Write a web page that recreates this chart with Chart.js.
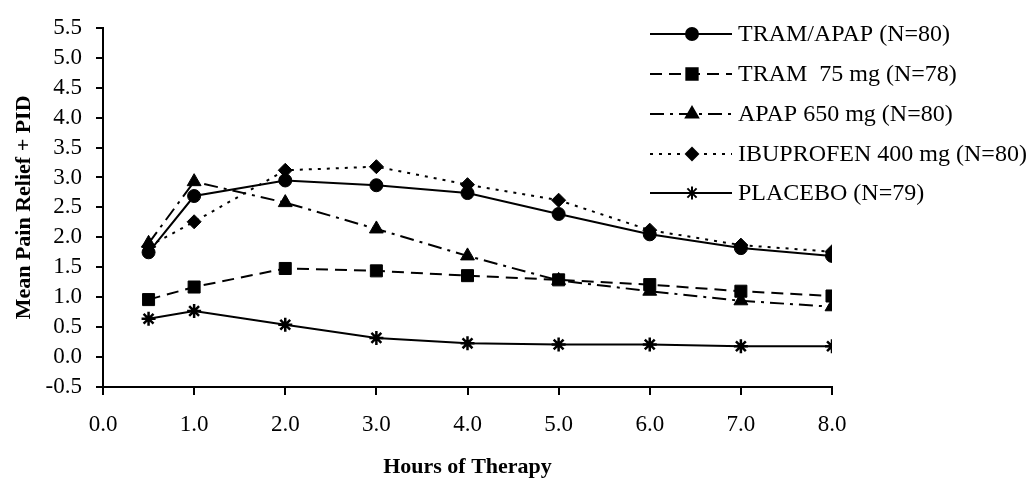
<!DOCTYPE html>
<html>
<head>
<meta charset="utf-8">
<script src="https://cdn.jsdelivr.net/npm/chart.js@4/dist/chart.umd.min.js"></script>
<style>
  html, body { margin: 0; padding: 0; background: #fff; }
  #wrap { width: 1035px; height: 484px; }
</style>
</head>
<body>
<div id="wrap"><canvas id="c" width="1035" height="484"></canvas></div>
<script>
const hours = [0.5, 1, 2, 3, 4, 5, 6, 7, 8];
const tramApap = [1.75, 2.69, 2.95, 2.87, 2.74, 2.39, 2.05, 1.82, 1.69];
const tram75 = [0.96, 1.17, 1.48, 1.44, 1.36, 1.29, 1.21, 1.10, 1.02];
const apap650 = [1.90, 2.93, 2.58, 2.14, 1.69, 1.28, 1.10, 0.94, 0.84];
const ibuprofen = [1.85, 2.26, 3.12, 3.18, 2.88, 2.62, 2.12, 1.87, 1.76];
const placebo = [0.64, 0.77, 0.54, 0.32, 0.23, 0.21, 0.21, 0.18, 0.18];
const seriesLabels = ['TRAM/APAP (N=80)', 'TRAM  75 mg (N=78)', 'APAP 650 mg (N=80)', 'IBUPROFEN 400 mg (N=80)', 'PLACEBO (N=79)'];
const xTitle = 'Hours of Therapy';
const yTitle = 'Mean Pain Relief + PID';

const serif = "'Liberation Serif', 'Times New Roman', serif";
const styles = [
    {dash: [], point: 'circle', r: 6.5, lr: 6},
    {dash: [12, 7], point: 'rect', r: 8.5, lr: 8},
    {dash: [14, 6, 3, 6], point: 'triangle', r: 8, lr: 7},
    {dash: [3, 6], point: 'rectRot', r: 7, lr: 6},
    {dash: [], point: 'star', r: 7, lr: 6.5}
];
const values = [tramApap, tram75, apap650, ibuprofen, placebo];

// legend drawn by hand: line sample with marker in the middle, then text
const legendPlugin = {
    id: 'handLegend',
    afterDraw(chart) {
        const ctx = chart.ctx;
        const rows = [34, 74, 114, 154, 193];
        ctx.save();
        seriesLabels.forEach((label, i) => {
            const y = rows[i];
            const s = styles[i];
            ctx.strokeStyle = '#000';
            ctx.fillStyle = '#000';
            ctx.lineWidth = 2;
            ctx.setLineDash(s.dash);
            ctx.beginPath();
            ctx.moveTo(650, y);
            ctx.lineTo(732, y);
            ctx.stroke();
            ctx.setLineDash([]);
            Chart.helpers.drawPoint(ctx, {pointStyle: s.point, radius: s.lr, rotation: 0, borderWidth: i == 4 ? 2.5 : 1}, 692, y);
            ctx.font = `24px ${serif}`;
            ctx.textBaseline = 'middle';
            ctx.textAlign = 'left';
            ctx.fillText(label, 738, y + 1);
        });
        ctx.restore();
    }
};

const ctx = document.getElementById('c').getContext('2d');
new Chart(ctx, {
    type: 'line',
    data: {
        datasets: values.map((vals, i) => ({
            label: seriesLabels[i],
            data: hours.map((h, j) => ({x: h, y: vals[j]})),
            borderColor: '#000',
            backgroundColor: '#000',
            borderWidth: 2,
            borderDash: styles[i].dash,
            pointStyle: styles[i].point,
            pointRadius: styles[i].r,
            pointBorderWidth: i == 4 ? 2.5 : 1,
            pointBorderColor: '#000',
            pointBackgroundColor: '#000',
            tension: 0,
            fill: false
        }))
    },
    options: {
        responsive: false,
        animation: false,
        layout: {padding: {top: 16, right: 203, left: 0, bottom: 0}},
        plugins: {
            legend: {display: false},
            tooltip: {enabled: false}
        },
        scales: {
            x: {
                type: 'linear',
                min: 0,
                max: 8,
                afterFit: scale => { scale.height = 97; },
                ticks: {
                    stepSize: 1,
                    autoSkip: false,
                    maxRotation: 0,
                    color: '#000',
                    padding: 16,
                    font: {family: serif, size: 23},
                    callback: v => v.toFixed(1)
                },
                grid: {drawOnChartArea: false, drawTicks: true, tickLength: 8, color: '#000', lineWidth: 2},
                border: {display: true, color: '#000', width: 2},
                title: {
                    display: true,
                    text: xTitle,
                    color: '#000',
                    font: {family: serif, size: 22, weight: 'bold'},
                    padding: {top: 0, bottom: 3}
                }
            },
            y: {
                min: -0.5,
                max: 5.5,
                afterFit: scale => { scale.width = 103; },
                ticks: {
                    stepSize: 0.5,
                    autoSkip: false,
                    color: '#000',
                    padding: 14,
                    font: {family: serif, size: 23},
                    callback: v => v.toFixed(1)
                },
                grid: {drawOnChartArea: false, drawTicks: true, tickLength: 7, color: '#000', lineWidth: 2},
                border: {display: true, color: '#000', width: 2},
                title: {
                    display: true,
                    text: yTitle,
                    color: '#000',
                    font: {family: serif, size: 22, weight: 'bold'},
                    padding: {top: 11, bottom: 0}
                }
            }
        }
    },
    plugins: [legendPlugin]
});
</script>
</body>
</html>
